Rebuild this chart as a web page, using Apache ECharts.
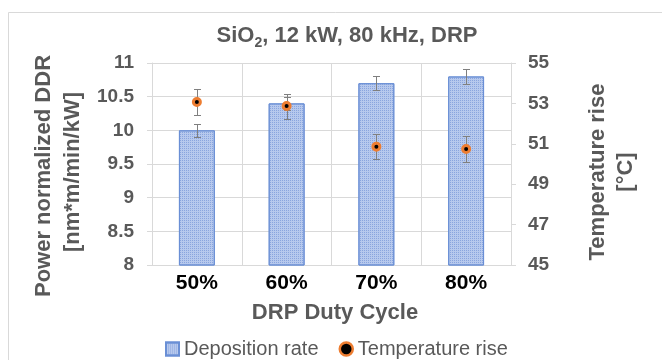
<!DOCTYPE html>
<html>
<head>
<meta charset="utf-8">
<script src="https://cdn.jsdelivr.net/npm/echarts@6/dist/echarts.min.js"></script>
<style>
  html, body { margin: 0; padding: 0; background: #ffffff; }
  #chart { width: 662px; height: 360px; }
</style>
</head>
<body>
<div id="chart"></div>
<script>
// Duty cycle categories and measured values
const categories = ['50%', '60%', '70%', '80%'];
const depositionRate = [10.0, 10.4, 10.7, 10.8];      // nm*m/min/kW
const depositionErr = [0.1, 0.1, 0.1, 0.11];
const temperatureRise = [53.07, 52.87, 50.86, 50.74]; // °C
const temperatureErr = [0.62, 0.62, 0.61, 0.63];

// Axis ranges
const ddrMin = 8, ddrMax = 11, ddrStep = 0.5;
const tempMin = 45, tempMax = 55, tempStep = 2;

const FONT = 'Liberation Sans, Arial, sans-serif';
const GRAY = '#595959';
const GRID_COLOR = '#d9d9d9';
const ERR_COLOR = '#7f7f7f';

function errorRows(values, errs) {
  return values.map((v, i) => [i, v - errs[i], v + errs[i]]);
}

function renderErrorBar(params, api) {
  const lo = api.coord([api.value(0), api.value(1)]);
  const hi = api.coord([api.value(0), api.value(2)]);
  const x = Math.round(lo[0]) + 0.5;
  const yl = Math.round(lo[1]) + 0.5;
  const yh = Math.round(hi[1]) + 0.5;
  const half = 3.5;
  const style = { stroke: ERR_COLOR, lineWidth: 1 };
  return {
    type: 'group',
    children: [
      { type: 'line', shape: { x1: x, y1: yh, x2: x, y2: yl }, style },
      { type: 'line', shape: { x1: x - half, y1: yh, x2: x + half, y2: yh }, style },
      { type: 'line', shape: { x1: x - half, y1: yl, x2: x + half, y2: yl }, style }
    ]
  };
}

function verticalTitle(text, x, y) {
  return {
    type: 'text',
    x: x, y: y,
    rotation: Math.PI / 2,
    style: {
      text: text,
      font: 'bold 22px ' + FONT,
      fill: GRAY,
      align: 'center', verticalAlign: 'middle',
      textAlign: 'center', textVerticalAlign: 'middle'
    }
  };
}

// Title with a subscript: pieces are laid out left to right from measured widths
const measureCtx = document.createElement('canvas').getContext('2d');
function textWidth(text, font) {
  measureCtx.font = font;
  return measureCtx.measureText(text).width;
}
function titlePieces(centerX, centerY) {
  const mainFont = 'bold 22px ' + FONT;
  const subFont = 'bold 14px ' + FONT;
  const parts = [
    { text: 'SiO', font: mainFont, dy: 0 },
    { text: '2', font: subFont, dy: 7 },
    { text: ', 12 kW, 80 kHz, DRP', font: mainFont, dy: 0 }
  ];
  const widths = parts.map(p => textWidth(p.text, p.font));
  const total = widths.reduce((a, b) => a + b, 0);
  let x = centerX - total / 2;
  return parts.map((p, i) => {
    const el = {
      type: 'text',
      x: x, y: centerY + p.dy,
      style: {
        text: p.text, font: p.font, fill: GRAY,
        align: 'left', verticalAlign: 'middle',
        textAlign: 'left', textVerticalAlign: 'middle'
      }
    };
    x += widths[i];
    return el;
  });
}

const chart = echarts.init(document.getElementById('chart'));

const option = {
  animation: false,
  backgroundColor: '#ffffff',
  textStyle: { fontFamily: FONT },
  grid: { left: 152, right: 151, top: 63, bottom: 95 },
  xAxis: {
    type: 'category',
    data: categories,
    axisLine: { lineStyle: { color: GRID_COLOR } },
    axisTick: { show: false },
    splitLine: { show: true, interval: 0, lineStyle: { color: GRID_COLOR } },
    axisLabel: { margin: 8, color: '#000000', fontSize: 21, fontWeight: 'bold', fontFamily: FONT }
  },
  yAxis: [
    {
      type: 'value', position: 'left',
      min: ddrMin, max: ddrMax, interval: ddrStep,
      axisLine: { show: true, lineStyle: { color: GRID_COLOR } },
      axisTick: { show: true, length: 5, lineStyle: { color: GRID_COLOR } },
      splitLine: { show: true, lineStyle: { color: GRID_COLOR } },
      axisLabel: { margin: 18, color: GRAY, fontSize: 19, fontWeight: 'bold', fontFamily: FONT }
    },
    {
      type: 'value', position: 'right',
      min: tempMin, max: tempMax, interval: tempStep,
      axisLine: { show: true, lineStyle: { color: GRID_COLOR } },
      axisTick: { show: true, length: 5, lineStyle: { color: GRID_COLOR } },
      splitLine: { show: false },
      axisLabel: { margin: 17, color: GRAY, fontSize: 19, fontWeight: 'bold', fontFamily: FONT }
    }
  ],
  legend: {
    left: 165, top: 339, padding: 0,
    itemWidth: 13, itemHeight: 13, itemGap: 20,
    textStyle: { fontSize: 20, color: GRAY, fontFamily: FONT },
    data: [
      { name: 'Deposition rate', icon: 'rect' },
      { name: 'Temperature rise', icon: 'circle', itemStyle: { borderWidth: 2.5 } }
    ]
  },
  series: [
    {
      name: 'Deposition rate',
      type: 'bar',
      yAxisIndex: 0,
      barWidth: '40%',
      data: depositionRate,
      itemStyle: {
        color: '#b7c9ed',
        borderColor: '#6a8fd5',
        borderWidth: 1,
        decal: {
          symbol: 'rect',
          symbolSize: 1,
          dashArrayX: [1, 1],
          dashArrayY: [1, 1],
          color: '#8aa5de'
        }
      },
      z: 2
    },
    {
      name: 'Deposition rate error',
      type: 'custom',
      yAxisIndex: 0,
      data: errorRows(depositionRate, depositionErr),
      encode: { x: 0, y: [1, 2] },
      renderItem: renderErrorBar,
      z: 3
    },
    {
      name: 'Temperature rise error',
      type: 'custom',
      yAxisIndex: 1,
      data: errorRows(temperatureRise, temperatureErr),
      encode: { x: 0, y: [1, 2] },
      renderItem: renderErrorBar,
      z: 4
    },
    {
      name: 'Temperature rise',
      type: 'scatter',
      yAxisIndex: 1,
      data: temperatureRise,
      symbol: 'circle',
      symbolSize: 7,
      itemStyle: { color: '#000000', borderColor: '#ed7d31', borderWidth: 3, opacity: 1 },
      z: 5
    }
  ],
  graphic: [
    {
      type: 'rect',
      shape: { x: 8.5, y: 12.5, width: 720, height: 420 },
      style: { fill: 'none', stroke: GRID_COLOR, lineWidth: 1 },
      silent: true
    },
    ...titlePieces(347, 36),
    verticalTitle('Power normalized DDR', 44, 176),
    verticalTitle('[nm*m/min/kW]', 73, 172),
    verticalTitle('Temperature rise', 598, 172),
    verticalTitle('[°C]', 626, 172),
    {
      type: 'text',
      x: 335, y: 313,
      style: {
        text: 'DRP Duty Cycle',
        font: 'bold 22px ' + FONT,
        fill: GRAY,
        align: 'center', verticalAlign: 'middle',
        textAlign: 'center', textVerticalAlign: 'middle'
      }
    }
  ]
};

chart.setOption(option);
</script>
</body>
</html>
